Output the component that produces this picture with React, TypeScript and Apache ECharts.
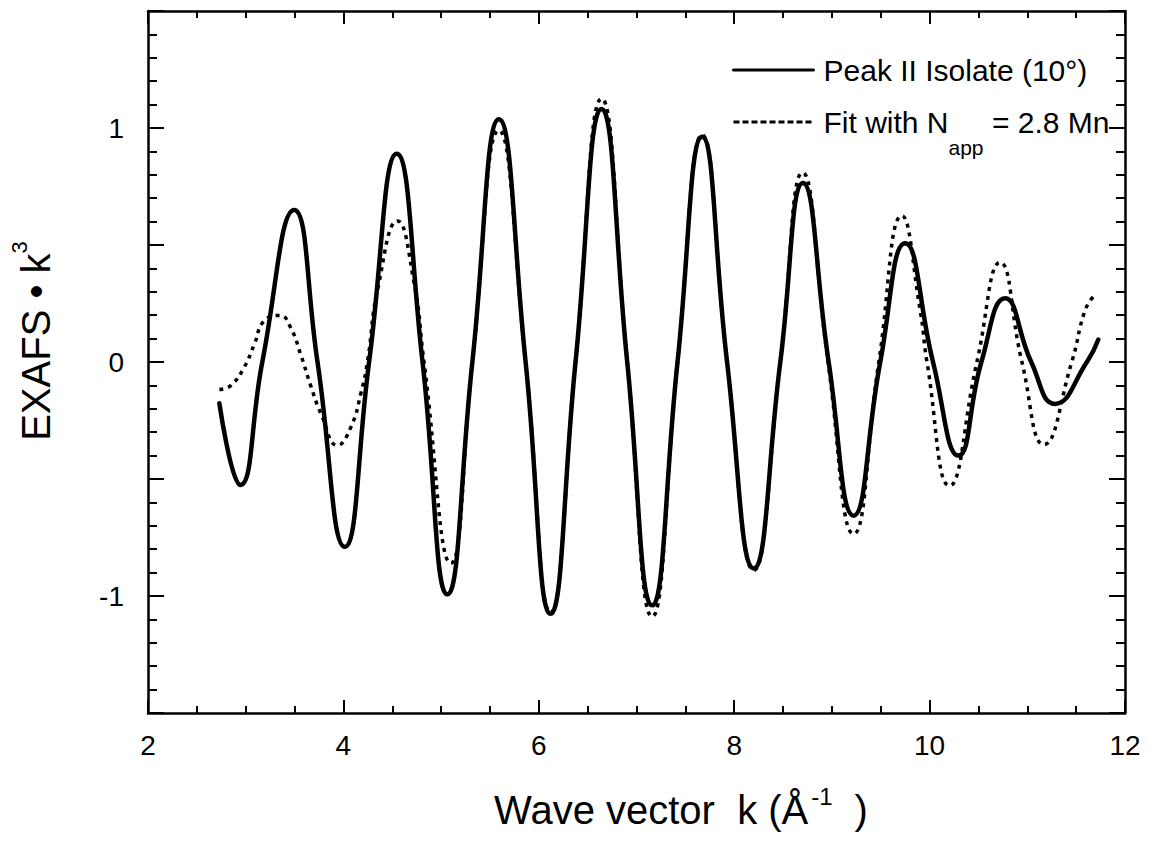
import React, { useEffect, useRef } from 'react';
import * as echarts from 'echarts';

const FONT = '"Liberation Sans", Arial, Helvetica, sans-serif';

const PEAK_NAME = 'Peak II Isolate (10°)';
const FIT_NAME = 'Fit with Napp = 2.8 Mn';

const K_PEAK = [2.73, 2.944, 3.17, 3.496, 3.735, 4.014, 4.263, 4.546, 4.81, 5.064, 5.32, 5.592, 5.865, 6.12, 6.376, 6.642, 6.905, 7.16, 7.42, 7.672, 7.927, 8.2, 8.472, 8.704, 8.967, 9.222, 9.495, 9.75, 10.035, 10.296, 10.53, 10.773, 11.04, 11.284, 11.61, 11.727];
const V_PEAK = [-0.176, -0.526, 0, 0.65, 0, -0.79, 0, 0.89, 0, -0.993, 0, 1.037, 0, -1.076, 0, 1.081, 0, -1.04, 0, 0.963, 0, -0.882, 0, 0.765, 0, -0.657, 0, 0.507, 0, -0.4, 0, 0.272, 0, -0.179, 0, 0.096];

const K_FIT = [2.73, 2.849, 2.985, 3.087, 3.19, 3.35, 3.46, 3.565, 3.667, 3.77, 3.94, 4.076, 4.18, 4.246, 4.35, 4.553, 4.723, 4.825, 5.1, 5.32, 5.59, 5.865, 6.12, 6.376, 6.642, 6.905, 7.16, 7.42, 7.672, 7.927, 8.2, 8.472, 8.7, 8.96, 9.222, 9.48, 9.717, 9.904, 9.973, 10.203, 10.484, 10.722, 10.945, 11.17, 11.455, 11.59, 11.676];
const V_FIT = [-0.118, -0.1, -0.022, 0.074, 0.176, 0.199, 0.147, 0.029, -0.103, -0.22, -0.356, -0.279, -0.132, 0, 0.309, 0.603, 0.338, 0, -0.86, 0, 0.99, 0, -1.07, 0, 1.125, 0, -1.088, 0, 0.97, 0, -0.89, 0, 0.809, 0, -0.735, 0, 0.625, 0.22, 0, -0.529, 0, 0.426, 0, -0.353, 0, 0.22, 0.279];

const X_MIN = 2, X_MAX = 12, X_INTERVAL = 2;
const Y_MIN = -1.5, Y_MAX = 1.5, Y_INTERVAL = 0.5;

const axisLineStyle = { color: '#000', width: 2.5 };

function xAxisCfg(position: 'bottom' | 'top', showLabel: boolean) {
  return {
    type: 'value',
    position,
    min: X_MIN,
    max: X_MAX,
    interval: X_INTERVAL,
    axisLine: { show: true, onZero: false, lineStyle: axisLineStyle },
    axisTick: { show: true, inside: true, length: 13, lineStyle: { color: '#000', width: 2 } },
    minorTick: { show: true, splitNumber: 4, length: 7, lineStyle: { color: '#000', width: 2 } },
    splitLine: { show: false },
    minorSplitLine: { show: false },
    axisLabel: { show: showLabel, fontSize: 28, color: '#000', fontFamily: FONT, margin: 18 },
  };
}

function yAxisCfg(position: 'left' | 'right', showLabel: boolean) {
  return {
    type: 'value',
    position,
    min: Y_MIN,
    max: Y_MAX,
    interval: Y_INTERVAL,
    axisLine: { show: true, onZero: false, lineStyle: axisLineStyle },
    axisTick: { show: true, inside: true, length: 16, lineStyle: { color: '#000', width: 2 } },
    minorTick: { show: true, splitNumber: 5, length: 9, lineStyle: { color: '#000', width: 2 } },
    splitLine: { show: false },
    minorSplitLine: { show: false },
    axisLabel: {
      show: showLabel,
      fontSize: 28,
      color: '#000',
      fontFamily: FONT,
      margin: 24,
      formatter: (v: number) => (Math.abs(v - Math.round(v)) < 1e-9 ? String(Math.round(v)) : ''),
    },
  };
}

const hiddenSymbol = { color: 'rgba(0,0,0,0)', borderColor: 'rgba(0,0,0,0)', borderWidth: 0 };

export default function App() {
  const ref = useRef<HTMLDivElement>(null);

  useEffect(() => {
    if (!ref.current) return;
    const chart = echarts.init(ref.current, null, { renderer: 'svg' });

    const xBottom: any = xAxisCfg('bottom', true);
    xBottom.name = 'Wave vector  k (Å{sup|-1})';
    xBottom.nameLocation = 'middle';
    xBottom.nameGap = 71;
    xBottom.nameTextStyle = {
      fontSize: 40,
      color: '#000',
      fontFamily: FONT,
      padding: [0, 0, 0, 89],
      rich: { sup: { fontSize: 24, color: '#000', fontFamily: FONT, padding: [0, 22, 28, 3] } },
    };

    const yLeft: any = yAxisCfg('left', true);
    yLeft.name = 'EXAFS • k{sup|3}';
    yLeft.nameLocation = 'middle';
    yLeft.nameGap = 84;
    yLeft.nameTextStyle = {
      fontSize: 40,
      color: '#000',
      fontFamily: FONT,
      padding: [0, 0, 0, 42],
      rich: { sup: { fontSize: 22, color: '#000', fontFamily: FONT, padding: [0, 0, 34, 0] } },
    };

    chart.setOption({
      animation: false,
      backgroundColor: '#fff',
      grid: { left: 147, right: 38, top: 11, bottom: 133, containLabel: false },
      xAxis: [xBottom, xAxisCfg('top', false)],
      yAxis: [yLeft, yAxisCfg('right', false)],
      legend: [
        {
          data: [PEAK_NAME],
          left: 732,
          top: 55,
          padding: 0,
          itemWidth: 80,
          itemHeight: 14,
          lineStyle: { width: 3 },
          itemStyle: hiddenSymbol,
          textStyle: { fontSize: 30, color: '#000', fontFamily: FONT, padding: [0, 0, 0, 5] },
        },
        {
          data: [FIT_NAME],
          left: 732,
          top: 107,
          padding: 0,
          itemWidth: 80,
          itemHeight: 14,
          lineStyle: { width: 3, type: [6, 3] },
          itemStyle: hiddenSymbol,
          formatter: () => 'Fit with N{sub|app} = 2.8 Mn',
          textStyle: {
            fontSize: 30,
            color: '#000',
            fontFamily: FONT,
            padding: [0, 0, 0, 5],
            rich: { sub: { fontSize: 21, color: '#000', fontFamily: FONT, padding: [50, 0, 0, 0] } },
          },
        },
      ],
      series: [
        {
          name: PEAK_NAME,
          type: 'line',
          xAxisIndex: 0,
          yAxisIndex: 0,
          data: K_PEAK.map((k, i) => [k, V_PEAK[i]]),
          symbol: 'none',
          smooth: 0.5,
          lineStyle: { color: '#000', width: 4.5, cap: 'round', join: 'round' },
          itemStyle: { color: '#000' },
          z: 3,
        },
        {
          name: FIT_NAME,
          type: 'line',
          xAxisIndex: 0,
          yAxisIndex: 0,
          data: K_FIT.map((k, i) => [k, V_FIT[i]]),
          symbol: 'none',
          smooth: 0.5,
          lineStyle: { color: '#000', width: 3.5, type: [4, 5] },
          itemStyle: { color: '#000' },
          z: 2,
        },
      ],
    });

    return () => chart.dispose();
  }, []);

  return (
    <div
      ref={ref}
      style={{ position: 'fixed', left: 0, top: 0, width: 1163, height: 846, background: '#fff' }}
    />
  );
}
